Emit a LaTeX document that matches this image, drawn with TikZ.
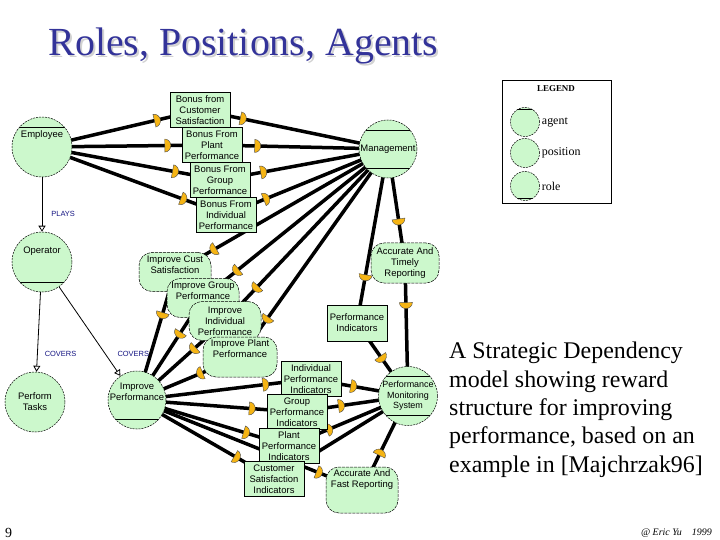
\documentclass[tikz,border=0pt]{standalone}
\usepackage{fontspec}
\setmainfont{Liberation Serif}
\setsansfont{Liberation Sans}
\usetikzlibrary{arrows.meta,decorations.markings}
\pgfdeclarelayer{background}
\pgfsetlayers{background,main}
\definecolor{actfill}{RGB}{204,248,204}
\definecolor{titleblue}{RGB}{51,51,153}
\definecolor{linkblue}{RGB}{20,20,130}
\definecolor{dfill}{RGB}{245,180,20}

\begin{document}
\begin{tikzpicture}[x=1bp, y=-1bp,
    actor/.style={circle, draw, line width=0.5bp, dash pattern=on 2bp off 1bp, fill=actfill,
      minimum size=60bp, inner sep=0pt, align=center, font=\sffamily\fontsize{9.5}{11}\selectfont},
    atext/.style={font=\sffamily\fontsize{9.5}{11}\selectfont},
    agent/.style={path picture={\draw[solid, line width=0.6bp]
      ([yshift=-#1]path picture bounding box.north west) -- ([yshift=-#1]path picture bounding box.north east);}},
    agent/.default=10bp,
    role/.style={path picture={\draw[solid, line width=0.6bp]
      ([yshift=#1]path picture bounding box.south west) -- ([yshift=#1]path picture bounding box.south east);}},
    role/.default=10bp,
    posn/.style={path picture={\draw[solid, line width=0.6bp]
      ([yshift=-#1]path picture bounding box.north west) -- ([yshift=-#1]path picture bounding box.north east)
      ([yshift=#1]path picture bounding box.south west) -- ([yshift=#1]path picture bounding box.south east);}},
    posn/.default=10bp,
    res/.style={rectangle, draw, line width=0.7bp, fill=actfill, minimum width=60bp, minimum height=35bp,
      inner sep=1bp, align=center, font=\sffamily\fontsize{9.5}{11}\selectfont},
    soft/.style={rectangle, rounded corners=13bp, draw, line width=0.5bp, dash pattern=on 3bp off 1bp,
      fill=actfill, minimum width=72bp, minimum height=39bp, inner sep=1bp, align=center,
      font=\sffamily\fontsize{9.5}{11}\selectfont},
    raisetext/.style={text depth=#1},
    link/.style={line width=3.5bp},
    % the D on a dependency, bulging towards the dependee
    dep/.style={postaction={decorate, decoration={markings, mark=at position #1 with
      {\filldraw[draw=black!70, fill=dfill, line width=0.4bp] (-3bp,-6.5bp) -- (-3bp,6.5bp)
        arc[start angle=90, end angle=-90, x radius=6bp, y radius=6.5bp] -- cycle;}}}},
    rlink/.style={line width=0.8bp, -{Triangle[open, length=6bp, width=7bp]}},
    lbl/.style={text=linkblue, font=\sffamily\fontsize{7.5}{8}\selectfont, inner sep=0pt}
  ]
  \useasboundingbox (0,0) rectangle (720,540);

  % title
  \node[anchor=base west, text=gray!35, font=\fontsize{40}{48}\selectfont] (tshadow) at (47,58) {Roles, Positions, Agents};
  \node[anchor=base west, text=titleblue, font=\fontsize{40}{48}\selectfont] (title) at (45,56) {Roles, Positions, Agents};

  % actors
  \node[actor, agent, label={[atext, yshift=12bp]center:Employee}] (emp) at (42,147) {};
  \node[actor, posn, minimum size=58bp] (mgmt) at (388,149) {Management};
  \node[actor, role, label={[atext, yshift=11bp]center:Operator}] (op) at (42,262) {};
  \node[actor] (pt) at (35,402) {Perform\\Tasks};
  \node[actor, role, minimum size=58bp, label={[atext, yshift=8bp, align=center]center:Improve\\Performance}] (ip) at (137,400) {};
  \node[actor, posn, minimum size=58bp, font=\sffamily\fontsize{9}{10.5}\selectfont] (pms) at (408,396) {Performance\\Monitoring\\System};

  % resources
  \node[res] (bcs) at (200,110) {Bonus from\\Customer\\Satisfaction};
  \node[res] (bpp) at (212,145) {Bonus From\\Plant\\Performance};
  \node[res] (bgp) at (220,180) {Bonus From\\Group\\Performance};
  \node[res] (bip) at (226,215) {Bonus From\\Individual\\Performance};
  \node[res, minimum height=36bp] (pi) at (357,323) {Performance\\Indicators};
  \node[res] (ipi) at (311,379) {Individual\\Performance\\Indicators};
  \node[res] (gpi) at (297,412) {Group\\Performance\\Indicators};
  \node[res] (ppi) at (289,446) {Plant\\Performance\\Indicators};
  \node[res] (csi) at (274,479) {Customer\\Satisfaction\\Indicators};

  % softgoals
  \node[soft, raisetext=14bp] (ics) at (175,272) {Improve Cust\\Satisfaction};
  \node[soft, raisetext=15bp] (igp) at (203,298) {Improve Group\\Performance};
  \node[soft] (iip) at (225,321) {Improve\\Individual\\Performance};
  \node[soft, raisetext=16bp, minimum width=74bp, minimum height=40bp] (ipp) at (240,357) {Improve Plant\\Performance};
  \node[soft, minimum width=68bp, minimum height=40bp] (atr) at (405,263) {Accurate And\\Timely\\Reporting};
  \node[soft, raisetext=22bp, minimum height=46bp] (afr) at (362,490) {Accurate And\\Fast Reporting};

  \begin{pgfonlayer}{background}
    % Employee -> bonus -> Management
    \draw[link, dep=0.73] (emp.center) -- (bcs.center);
    \draw[link, dep=0.23] (bcs.center) -- (mgmt.center);
    \draw[link, dep=0.74] (emp.center) -- (bpp.center);
    \draw[link, dep=0.26] (bpp.center) -- (mgmt.center);
    \draw[link, dep=0.75] (emp.center) -- (bgp.center);
    \draw[link, dep=0.26] (bgp.center) -- (mgmt.center);
    \draw[link, dep=0.77] (emp.center) -- (bip.center);
    \draw[link, dep=0.25] (bip.center) -- (mgmt.center);
    % Management -> goals -> Improve Performance
    \draw[link, dep=0.82] (mgmt.center) -- (ics.center);
    \draw[link, dep=0.34] (ics.center) -- (ip.center);
    \draw[link, dep=0.82] (mgmt.center) -- (igp.center);
    \draw[link, dep=0.36] (igp.center) -- (ip.center);
    \draw[link, dep=0.81] (mgmt.center) -- (iip.center);
    \draw[link, dep=0.36] (iip.center) -- (ip.center);
    \draw[link, dep=0.82] (mgmt.center) -- (ipp.center);
    \draw[link, dep=0.39] (ipp.center) -- (ip.center);
    % Management -> ... -> Performance Monitoring System
    \draw[link, dep=0.64] (mgmt.center) -- (atr.center);
    \draw[link, dep=0.32] (atr.center) -- (pms.center);
    \draw[link, dep=0.74] (mgmt.center) -- (pi.center);
    \draw[link, dep=0.49] (pi.center) -- (pms.center);
    % Improve Performance -> indicators -> Performance Monitoring System
    \draw[link, dep=0.74] (ip.center) -- (ipi.center);
    \draw[link, dep=0.44] (ipi.center) -- (pms.center);
    \draw[link, dep=0.72] (ip.center) -- (gpi.center);
    \draw[link, dep=0.40] (gpi.center) -- (pms.center);
    \draw[link, dep=0.72] (ip.center) -- (ppi.center);
    \draw[link, dep=0.34] (ppi.center) -- (pms.center);
    \draw[link, dep=0.73] (ip.center) -- (csi.center);
    \draw[link, dep=0.30] (csi.center) -- (pms.center);
    \draw[link, dep=0.81] (ip.center) -- (afr.center);
    \draw[link, dep=0.40] (afr.center) -- (pms.center);
  \end{pgfonlayer}

  % plays / covers
  \draw[rlink] (emp) -- (op) node[lbl, pos=0.67, anchor=west, xshift=9bp] {PLAYS};
  \draw[rlink] (op) -- (pt) node[lbl, pos=0.78, anchor=west, xshift=7bp] {COVERS};
  \draw[rlink] (op) -- (ip) node[lbl, pos=0.75, anchor=west, xshift=12bp] {COVERS};

  % legend
  \draw[line width=0.7bp] (502,80) rectangle (611,203);
  \node[font=\bfseries\fontsize{9}{10}\selectfont] (leg) at (556,89) {LEGEND};
  \node[actor, agent=2bp, minimum size=29bp] (lagent) at (525,122) {};
  \node[actor, minimum size=29bp] (lpos) at (525,153) {};
  \node[actor, role=2bp, minimum size=29bp] (lrole) at (525,186) {};
  \node[anchor=west, font=\fontsize{12}{14}\selectfont, inner sep=2bp] (tagent) at (lagent.east) {agent};
  \node[anchor=west, font=\fontsize{12}{14}\selectfont, inner sep=2bp] (tpos) at (lpos.east) {position};
  \node[anchor=west, font=\fontsize{12}{14}\selectfont, inner sep=2bp] (trole) at (lrole.east) {role};

  % caption and footer
  \node[anchor=north west, align=left, inner sep=0pt, font=\fontsize{24}{28.5}\selectfont] (caption) at (449,342)
    {A Strategic Dependency\\model showing reward\\structure for improving\\performance, based on an\\example in [Majchrzak96]};
  \node[anchor=base west, inner sep=0pt, font=\fontsize{14}{16}\selectfont] (pageno) at (5,537) {9};
  \node[anchor=base east, inner sep=0pt, font=\itshape\fontsize{10}{12}\selectfont] (credit) at (712,535) {@ Eric Yu\quad 1999};
\end{tikzpicture}
\end{document}
